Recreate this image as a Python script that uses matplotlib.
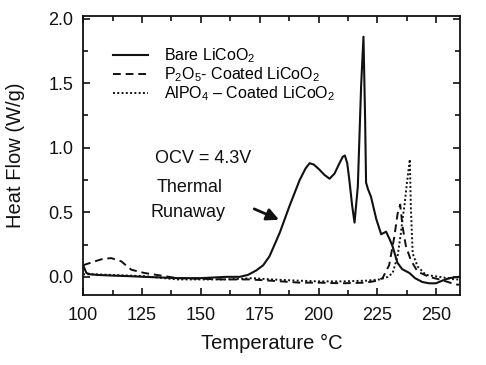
import numpy as np
import matplotlib
matplotlib.use('Agg')
import matplotlib.pyplot as plt
from matplotlib.ticker import MultipleLocator

plt.rcParams['font.family'] = ['Liberation Sans', 'DejaVu Sans']
plt.rcParams['mathtext.fontset'] = 'custom'
plt.rcParams['mathtext.rm'] = 'Liberation Sans'
plt.rcParams['mathtext.it'] = 'Liberation Sans:italic'
plt.rcParams['mathtext.bf'] = 'Liberation Sans:bold'

# Bare LiCoO2
bare_t = [100, 101.4, 103, 106, 112, 120, 126, 133, 140, 150, 161, 166.5, 170, 173.6,
          176.5, 179.2, 183.5, 187.7, 192, 194.5, 196.2, 198, 200.4, 202.5, 204.7,
          206.8, 208.9, 210.3, 211.2, 212.2, 213.1, 214.3, 215.3, 216.7, 218.1, 219.1,
          219.8, 220.2, 221, 222.3, 224.5, 226.6, 227.7, 228.7, 230, 231.4, 233.5,
          235.5, 238.6, 241, 244.1, 247, 249.9, 252.5, 255.5, 259.5]
bare_q = [0.09, 0.03, 0.02, 0.015, 0.01, 0.005, 0.0, -0.005, -0.01, -0.01, 0.0, 0.0,
          0.015, 0.05, 0.09, 0.16, 0.34, 0.55, 0.75, 0.84, 0.88, 0.87, 0.83, 0.79, 0.76,
          0.80, 0.88, 0.93, 0.94, 0.88, 0.75, 0.55, 0.42, 0.70, 1.48, 1.86, 1.22, 0.73,
          0.68, 0.62, 0.45, 0.33, 0.34, 0.35, 0.30, 0.24, 0.11, 0.06, 0.03, -0.01, -0.04,
          -0.05, -0.05, -0.03, -0.01, 0.0]

# P2O5-coated
p2o5_t = [100, 105, 108.5, 112, 116.2, 120.5, 126, 133, 140, 150, 160, 170.8, 180, 192,
          200, 210, 220, 225, 227.2, 230, 232.2, 233.6, 234.7, 235.7, 237.1, 239.2,
          242.1, 247, 251.3, 255, 258.3, 259.7]
p2o5_q = [0.09, 0.12, 0.14, 0.145, 0.12, 0.055, 0.03, 0.01, -0.01, -0.015, -0.02, -0.02,
          -0.03, -0.045, -0.045, -0.05, -0.045, -0.03, -0.01, 0.09, 0.31, 0.49, 0.56,
          0.39, 0.24, 0.13, 0.04, 0.0, -0.02, -0.04, -0.06, -0.06]

# AlPO4-coated
alpo4_t = [100, 105, 112, 126, 140, 150, 161, 172, 180, 192, 200, 210, 220, 226, 229.5,
           231.5, 233.6, 235, 235.7, 236.5, 237.5, 238.8, 239.2, 240, 242.1, 245.6,
           251.3, 258, 259.7]
alpo4_q = [0.02, 0.02, 0.015, 0.005, -0.02, -0.02, -0.02, -0.01, -0.02, -0.03, -0.035,
           -0.035, -0.03, -0.02, 0.0, 0.03, 0.16, 0.34, 0.45, 0.55, 0.72, 0.91, 0.55,
           0.18, 0.08, 0.015, 0.0, -0.02, -0.02]

labels = [r'Bare LiCoO$_2$', r'P$_2$O$_5$- Coated LiCoO$_2$', r'AlPO$_4$ – Coated LiCoO$_2$']

fig = plt.figure(figsize=(4.86, 3.65), dpi=100)
ax = fig.add_axes([0.171, 0.192, 0.775, 0.764])

ink = '#111111'
ax.plot(bare_t, bare_q, color=ink, lw=1.5, ls='-', label=labels[0])
ax.plot(p2o5_t, p2o5_q, color=ink, lw=1.4, ls=(0, (4, 2.5)), label=labels[1])
ax.plot(alpo4_t, alpo4_q, color=ink, lw=1.4, ls=(0, (1, 1.2)), label=labels[2])

ax.set_xlim(100, 260)
ax.set_ylim(-0.14, 2.02)
ax.xaxis.set_major_locator(MultipleLocator(25))
ax.xaxis.set_minor_locator(MultipleLocator(12.5))
ax.yaxis.set_major_locator(MultipleLocator(0.5))
ax.yaxis.set_minor_locator(MultipleLocator(0.25))
ax.tick_params(which='both', direction='in', top=True, right=True, width=1.2, colors=ink,
               labelsize=13)
ax.tick_params(which='major', length=5)
ax.tick_params(which='minor', length=3.5)
ax.tick_params(axis='x', pad=9)
ax.tick_params(axis='y', pad=7)
for s in ax.spines.values():
    s.set_linewidth(1.3)
    s.set_color(ink)

ax.set_xlabel('Temperature °C', fontsize=14.5, color=ink, labelpad=7)
ax.set_ylabel('Heat Flow (W/g)', fontsize=14.5, color=ink, labelpad=17)

ax.text(150.8, 0.92, 'OCV = 4.3V', fontsize=13, color=ink, ha='center', va='center')
ax.text(145.3, 0.69, 'Thermal', fontsize=13, color=ink, ha='center', va='center')
ax.text(144.5, 0.50, 'Runaway', fontsize=13, color=ink, ha='center', va='center')
ax.annotate('', xy=(184.3, 0.434), xytext=(171.6, 0.535),
            arrowprops=dict(arrowstyle='-|>', color=ink, lw=2.0, mutation_scale=18))

ax.legend(loc='upper left', bbox_to_anchor=(0.08, 0.89), frameon=False, fontsize=11.5,
          handlelength=2.2, handletextpad=1.0, labelspacing=0.0, borderpad=0,
          borderaxespad=0)

fig.savefig('out.png', dpi=100)
